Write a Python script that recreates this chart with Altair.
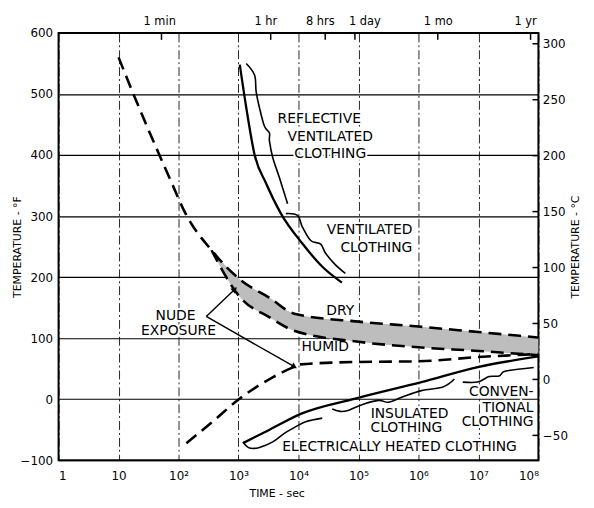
import altair as alt
import pandas as pd

# ---------------- data ----------------
# nude exposure, dry air: dashed curve before the stippled band
dry_pre_t = [10, 17, 47, 78, 131]
dry_pre_f = [560, 504, 402, 353, 304]
# stippled band between dry (upper) and humid (lower)
band_t = [355, 1060, 3300, 8500, 1e5, 1e6, 1e7, 1e8]
band_dry_f = [244, 196, 166, 140, 127, 119, 110, 101]
band_humid_f = [244, 167, 134, 112, 94, 85, 79, 72]
# nude exposure, cold side (dashed)
cold_t = [135, 340, 1050, 3300, 8500, 10700, 1e5, 1e6, 1e7, 1e8]
cold_f = [-72, -40, 1, 33, 53, 57, 61, 62, 69, 74]
# ventilated clothing (solid)
vent_t = [1050, 1350, 1850, 2900, 5100, 11600, 25000, 53000]
vent_f = [548, 477, 401, 353, 304, 255, 217, 191]
# heated / insulated / conventional clothing (solid)
heat_t = [1190, 3300, 10900, 88500, 1.12e6, 1.02e7, 1e8]
heat_f = [-72, -50, -24, 1, 28, 53, 70]

# hand-drawn braces marking ranges along the curves
brace_reflective_t = [1346, 1853, 1968, 2240, 2710, 3280, 3280, 3720, 4800, 6580]
brace_reflective_f = [550, 531, 504, 477, 447, 436, 423, 396, 363, 320]
brace_ventilated_t = [6170, 9620, 11640, 15970, 23400, 28300, 41400, 60500]
brace_ventilated_f = [304, 301, 282, 260, 254, 239, 220, 206]
brace_electric_t = [1187, 1530, 2240, 3720, 5800, 7960, 13200, 24900]
brace_electric_f = [-70, -80, -79, -70, -56, -48, -37, -31]
brace_insulated_t = [36500, 50000, 68900, 114000, 216000, 316000, 524000, 1.12e6, 2.56e6, 3.98e6]
brace_insulated_f = [-16, -20, -18, -9, -2, -5, 3, 14, 20, 33]
brace_conventional_t = [5.48e6, 9.7e6, 1.51e7, 2.21e7, 2.85e7, 8.36e7]
brace_conventional_f = [28, 28, 37, 38, 46, 52]

# nude exposure arrows: vertex -> tips
arrow_vertex = (290, 135.5)
arrow_tips_t = [843, 8260]
arrow_tips_f = [179, 54]
arrow_angles = [46, 120]

# axes
x_ticks = [1, 10, 100, 1e3, 1e4, 1e5, 1e6, 1e7, 1e8]
x_labels = ["1", "10", "10²", "10³", "10⁴", "10⁵", "10⁶", "10⁷", "10⁸"]
y_ticks_f = [-100, 0, 100, 200, 300, 400, 500, 600]
c_ticks = [300, 250, 200, 150, 100, 50, 0, -50]
c_domain = [-72.2, 309.7]
top_tick_t = [52, 3440, 27900, 87300, 2.1e6, 7.4e7]
top_label_t = [48.5, 2850, 23100, 128000, 2.14e6, 6.1e7]
top_labels = ["1 min", "1 hr", "8 hrs", "1 day", "1 mo", "1 yr"]

# annotations
lab_text = ["REFLECTIVE", "VENTILATED", "CLOTHING", "VENTILATED", "CLOTHING",
            "DRY", "HUMID", "NUDE", "EXPOSURE", "INSULATED", "CLOTHING",
            "CONVEN-", "TIONAL", "CLOTHING", "ELECTRICALLY HEATED CLOTHING"]
lab_t = [22200, 33800, 33800, 7.9e5, 7.9e5,
         49500, 27900, 89, 100, 7.1e5, 6.3e5,
         8.3e7, 8.3e7, 8.3e7, 4.85e5]
lab_f = [459, 430, 402, 277, 248,
         144, 85, 137, 111, -24, -48,
         12, -14, -38, -79]
lab_align = ["center", "center", "center", "right", "right",
             "center", "center", "center", "center", "center", "center",
             "right", "right", "right", "center"]

# ---------------- tables ----------------
dashed_df = pd.concat([
    pd.DataFrame({"t": dry_pre_t + band_t, "f": dry_pre_f + band_dry_f, "s": "dry"}),
    pd.DataFrame({"t": band_t, "f": band_humid_f, "s": "humid"}),
    pd.DataFrame({"t": cold_t, "f": cold_f, "s": "cold"}),
])
band_df = pd.DataFrame({"t": band_t, "hi": band_dry_f, "lo": band_humid_f})
solid_df = pd.concat([
    pd.DataFrame({"t": vent_t, "f": vent_f, "s": "vent"}),
    pd.DataFrame({"t": heat_t, "f": heat_f, "s": "heat"}),
])
braces = {
    "reflective": (brace_reflective_t, brace_reflective_f),
    "ventilated": (brace_ventilated_t, brace_ventilated_f),
    "electric": (brace_electric_t, brace_electric_f),
    "insulated": (brace_insulated_t, brace_insulated_f),
    "conventional": (brace_conventional_t, brace_conventional_f),
}
brace_df = pd.concat([
    pd.DataFrame({"t": tt, "f": ff, "s": k, "o": list(range(len(tt)))})
    for k, (tt, ff) in braces.items()
])
arrow_rows = []
for i, (tt, ff) in enumerate(zip(arrow_tips_t, arrow_tips_f)):
    arrow_rows.append({"t": arrow_vertex[0], "f": arrow_vertex[1], "s": i, "o": 0})
    arrow_rows.append({"t": tt, "f": ff, "s": i, "o": 1})
arrow_df = pd.DataFrame(arrow_rows)
head_df = pd.DataFrame({"t": arrow_tips_t, "f": arrow_tips_f, "a": arrow_angles})
lab_df = pd.DataFrame({"text": lab_text, "t": lab_t, "f": lab_f, "align": lab_align})
top_tick_df = pd.DataFrame({"t": top_tick_t})
top_label_df = pd.DataFrame({"t": top_label_t, "label": top_labels})
c_df = pd.DataFrame({"c": c_ticks})

# ---------------- encodings ----------------
W, H = 484, 431
FONT = "DejaVu Sans"
FS = 14
xscale = alt.Scale(type="log", domain=[1, 1e8], nice=False)
yscale = alt.Scale(domain=[-100, 600], nice=False, zero=False)
label_expr = "[" + ",".join("'%s'" % s for s in x_labels) + "][round(log(datum.value)/LN10)]"
xaxis = alt.Axis(values=x_ticks, labelExpr=label_expr, title="TIME - sec",
                 grid=True, gridDash=[9, 3, 2, 3], gridColor="black", gridWidth=1,
                 gridOpacity=0.85, ticks=False, domain=False, labelPadding=10,
                 labelFontSize=12, titleFontSize=11, titleFontWeight="normal",
                 titleX=220, titleY=28)
yaxis = alt.Axis(values=y_ticks_f, title="TEMPERATURE - °F", grid=True,
                 gridColor="black", gridWidth=1.2, gridOpacity=1, ticks=False,
                 domain=False, labelPadding=6, labelFontSize=12, titleFontSize=11,
                 titleFontWeight="normal", titleX=-41, titleY=H / 2,
                 titleAngle=270, titleAlign="center", titleBaseline="middle")


def X(field="t"):
    return alt.X(field, type="quantitative", scale=xscale, axis=xaxis)


def Y(field="f"):
    return alt.Y(field, type="quantitative", scale=yscale, axis=yaxis)


halo_c = alt.Chart(lab_df).mark_text(font=FONT, fontSize=FS, color="white",
                                     stroke="white", strokeWidth=4).encode(
    x=X(), y=Y(), text="text:N").transform_filter("datum.align == 'center'")
halo_r = alt.Chart(lab_df).mark_text(font=FONT, fontSize=FS, color="white",
                                     stroke="white", strokeWidth=4, align="right").encode(
    x=X(), y=Y(), text="text:N").transform_filter("datum.align == 'right'")

band = alt.Chart(band_df).mark_area(color="#bdbdbd", interpolate="monotone").encode(
    x=X(), y=Y("hi"), y2="lo")

dashed = alt.Chart(dashed_df).mark_line(color="black", strokeWidth=2.6,
                                        strokeDash=[13, 7], interpolate="monotone").encode(
    x=X(), y=Y(), detail="s:N")

solid = alt.Chart(solid_df).mark_line(color="black", strokeWidth=2.3,
                                      interpolate="monotone").encode(
    x=X(), y=Y(), detail="s:N")

brace = alt.Chart(brace_df).mark_line(color="black", strokeWidth=1.6,
                                      interpolate="cardinal").encode(
    x=X(), y=Y(), detail="s:N", order="o:Q")

arrows = alt.Chart(arrow_df).mark_line(color="black", strokeWidth=1.4).encode(
    x=X(), y=Y(), detail="s:N", order="o:Q")
heads = alt.Chart(head_df).mark_point(shape="triangle", filled=True, size=45,
                                      color="black", opacity=1).encode(
    x=X(), y=Y(), angle=alt.Angle("a:Q", scale=None))

txt_c = alt.Chart(lab_df).mark_text(font=FONT, fontSize=FS, color="black").encode(
    x=X(), y=Y(), text="text:N").transform_filter("datum.align == 'center'")
txt_r = alt.Chart(lab_df).mark_text(font=FONT, fontSize=FS, color="black",
                                    align="right").encode(
    x=X(), y=Y(), text="text:N").transform_filter("datum.align == 'right'")

top_ticks = alt.Chart(top_tick_df).mark_rule(color="black", strokeWidth=1.5).encode(
    x=X(), y=alt.value(0), y2=alt.value(7))
top_text = alt.Chart(top_label_df).mark_text(font=FONT, fontSize=11.5, color="black",
                                             baseline="middle").encode(
    x=X(), y=alt.value(-11), text="label:N")

inner = alt.layer(halo_c, halo_r, band, dashed, solid, brace, arrows, heads,
                  txt_c, txt_r, top_ticks, top_text)

celsius = alt.Chart(c_df).mark_rule(color="black", strokeWidth=1.5).encode(
    x=alt.value(W - 6), x2=alt.value(W),
    y=alt.Y("c:Q", scale=alt.Scale(domain=c_domain, nice=False, zero=False),
            axis=alt.Axis(orient="right", values=c_ticks, grid=False, ticks=False,
                          domain=False, labelPadding=4, labelFontSize=12,
                          title="TEMPERATURE - °C", titleAngle=270,
                          titleFontSize=11, titleFontWeight="normal",
                          titlePadding=13)))

chart = alt.layer(inner, celsius).resolve_scale(y="independent").properties(
    width=W, height=H,
    autosize=alt.AutoSizeParams(type="none"),
    padding={"left": 51, "top": 23, "right": 48, "bottom": 40},
).configure_view(stroke="black", strokeWidth=2).configure_axis(
    labelFont=FONT, titleFont=FONT, labelColor="black", titleColor="black"
)

chart.save("out.html", embed_options={"renderer": "svg", "actions": False})
